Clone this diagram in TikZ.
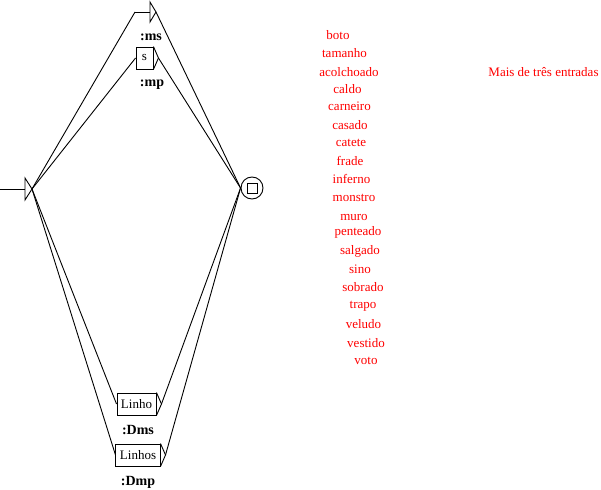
\documentclass[tikz,border=0pt]{standalone}
\usepackage{fontspec}
\setmainfont{Liberation Serif}

\begin{document}
\begin{tikzpicture}[x=1pt,y=-1pt,line width=0.9pt,
  box/.style={draw,rectangle,minimum height=22pt,minimum width=17pt,inner xsep=4pt,inner ysep=0pt,font=\fontsize{13}{15}\selectfont},
  tag/.style={inner sep=0pt,font=\fontsize{14}{16}\selectfont\bfseries},
  word/.style={text=red,inner sep=0pt,font=\fontsize{13}{15}\selectfont},
  state/.style={draw,circle,minimum size=22pt,inner sep=0pt}]
\useasboundingbox (0,0) rectangle (601,489);

% initial state
\coordinate (in) at (0,189);
\coordinate (init) at (32,189);
\draw (in) -- (25,189);
\draw (25,178) -- (init) -- (25,200) -- cycle;

% empty box
\coordinate (e-in) at (135,12);
\coordinate (e-out) at (156,12);
\draw (e-in) -- (150,12);
\draw (150,2) -- (e-out) -- (150,22) -- cycle;

% boxes
\node[box] (s)      at (144.5,58) {s};
\node[box] (linho)  at (136.5,404) {Linho};
\node[box] (linhos) at (138,455)   {Linhos};
\foreach \b in {s,linho,linhos}
  \draw (\b.north east) -- ([xshift=5pt]\b.east) coordinate (\b-out) -- (\b.south east);

% final state
\node[state] (fin) at (252,188) {};
\node[draw,minimum size=10pt,inner sep=0pt] (fin-box) at (fin) {};

\path
(init)       edge (e-in)
(init)       edge (s.west)
(init)       edge (linho.west)
(init)       edge (linhos.west)
(e-out)      edge (fin.west)
(s-out)      edge (fin.west)
(linho-out)  edge (fin.west)
(linhos-out) edge (fin.west)
;

% outputs
\node[tag] (ms)  at (151,37)  {:ms};
\node[tag] (mp)  at (152,85)  {:mp};
\node[tag] (dms) at (138,430) {:Dms};
\node[tag] (dmp) at (138,482) {:Dmp};

% comments
\foreach \w/\x/\y in {boto/338/35, tamanho/344.5/53, acolchoado/349/72, caldo/347.5/89,
    carneiro/349.5/106, casado/350/125, catete/351/143, frade/350/161, inferno/351.5/179,
    monstro/354/198, muro/354/217, penteado/358/232, salgado/360/251, sino/360/269,
    sobrado/363/287, trapo/363/306, veludo/363.5/324, vestido/366/343, voto/366/361}
  \node[word] (w-\w) at (\x,\y) {\w};
\node[word] (mais) at (543.5,72) {Mais de três entradas};
\end{tikzpicture}
\end{document}
